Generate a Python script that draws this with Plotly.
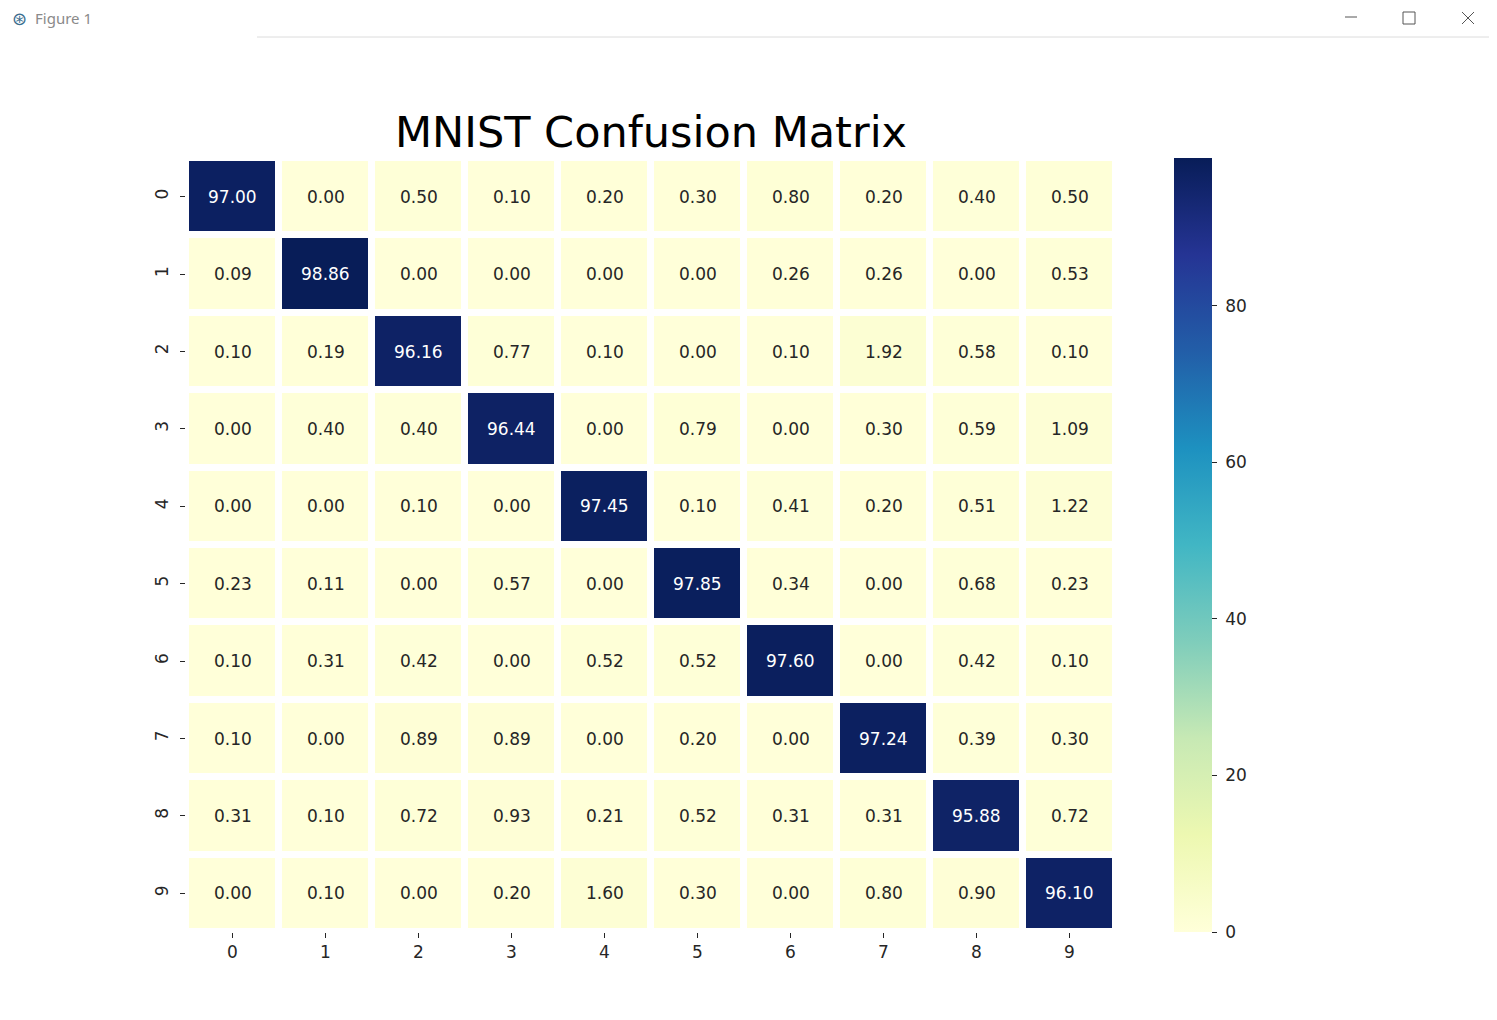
import plotly.graph_objects as go

# confusion matrix in percent (rows = true digit, cols = predicted digit)
digits = ["0", "1", "2", "3", "4", "5", "6", "7", "8", "9"]
row_0 = [97.00, 0.00, 0.50, 0.10, 0.20, 0.30, 0.80, 0.20, 0.40, 0.50]
row_1 = [0.09, 98.86, 0.00, 0.00, 0.00, 0.00, 0.26, 0.26, 0.00, 0.53]
row_2 = [0.10, 0.19, 96.16, 0.77, 0.10, 0.00, 0.10, 1.92, 0.58, 0.10]
row_3 = [0.00, 0.40, 0.40, 96.44, 0.00, 0.79, 0.00, 0.30, 0.59, 1.09]
row_4 = [0.00, 0.00, 0.10, 0.00, 97.45, 0.10, 0.41, 0.20, 0.51, 1.22]
row_5 = [0.23, 0.11, 0.00, 0.57, 0.00, 97.85, 0.34, 0.00, 0.68, 0.23]
row_6 = [0.10, 0.31, 0.42, 0.00, 0.52, 0.52, 97.60, 0.00, 0.42, 0.10]
row_7 = [0.10, 0.00, 0.89, 0.89, 0.00, 0.20, 0.00, 97.24, 0.39, 0.30]
row_8 = [0.31, 0.10, 0.72, 0.93, 0.21, 0.52, 0.31, 0.31, 95.88, 0.72]
row_9 = [0.00, 0.10, 0.00, 0.20, 1.60, 0.30, 0.00, 0.80, 0.90, 96.10]
matrix = [row_0, row_1, row_2, row_3, row_4, row_5, row_6, row_7, row_8, row_9]
cbar_ticks = [0, 20, 40, 60, 80]

# page body has an 8px margin, so shift everything up/left by that
OFF = 8
W, H = 1497, 1020
L, R, T, B = 186 - OFF, 381 + OFF, 158 - OFF, 88 + OFF
PW, PH = W - L - R, H - T - B

# matplotlib / colorbrewer YlGnBu
ylgnbu = [
    [0.0, "#ffffd9"], [0.125, "#edf8b1"], [0.25, "#c7e9b4"],
    [0.375, "#7fcdbb"], [0.5, "#41b6c4"], [0.625, "#1d91c0"],
    [0.75, "#225ea8"], [0.875, "#253494"], [1.0, "#081d58"],
]
zmax = max(max(r) for r in matrix)

font = "DejaVu Sans"


def px_x(p):
    # screenshot pixel -> paper fraction
    return (p - OFF - L) / PW


def px_y(p):
    return (H - B - (p - OFF)) / PH


fig = go.Figure()
fig.add_trace(go.Heatmap(
    z=matrix, x=digits, y=digits,
    colorscale=ylgnbu, zmin=0, zmax=zmax,
    xgap=7, ygap=7, hoverinfo="skip",
    colorbar=dict(
        x=px_x(1174), xanchor="left", y=px_y(545), yanchor="middle",
        xpad=0, ypad=0,
        thickness=38, thicknessmode="pixels",
        len=774, lenmode="pixels",
        tickvals=cbar_ticks,
        ticktext=["\u00a0" + str(t) for t in cbar_ticks],
        ticks="outside", ticklen=5, tickwidth=1,
        tickcolor="#262626", outlinewidth=0,
        tickfont=dict(family=font, size=17, color="#262626"),
    ),
))

annotations = []
for i, row in enumerate(matrix):
    for j, v in enumerate(row):
        annotations.append(dict(
            x=digits[j], y=digits[i], text=f"{v:.2f}", showarrow=False,
            font=dict(family=font, size=17,
                      color="white" if v > 50 else "#262626"),
        ))

# window chrome
annotations.append(dict(
    xref="paper", yref="paper", x=px_x(33), y=px_y(18),
    xanchor="left", yanchor="middle", text="Figure 1", showarrow=False,
    font=dict(family="Noto Sans", size=15, color="#8a8a8a"),
))
annotations.append(dict(
    xref="paper", yref="paper", x=px_x(10), y=px_y(18),
    xanchor="left", yanchor="middle", text="⊛", showarrow=False,
    font=dict(family=font, size=18, color="#3b6e8f"),
))

line = dict(color="#dcdcdc", width=1)
gl = dict(color="#555555", width=1)
shapes = [
    dict(type="line", xref="paper", yref="paper",
         x0=px_x(257), x1=px_x(1497), y0=px_y(37), y1=px_y(37), line=line),
    dict(type="line", xref="paper", yref="paper",
         x0=px_x(1496), x1=px_x(1496), y0=px_y(37), y1=px_y(1020), line=line),
    dict(type="line", xref="paper", yref="paper",
         x0=px_x(1345), x1=px_x(1357), y0=px_y(17), y1=px_y(17), line=gl),
    dict(type="rect", xref="paper", yref="paper",
         x0=px_x(1403), x1=px_x(1415), y0=px_y(12), y1=px_y(24), line=gl),
    dict(type="line", xref="paper", yref="paper",
         x0=px_x(1462), x1=px_x(1474), y0=px_y(12), y1=px_y(24), line=gl),
    dict(type="line", xref="paper", yref="paper",
         x0=px_x(1462), x1=px_x(1474), y0=px_y(24), y1=px_y(12), line=gl),
]

fig.update_layout(
    width=W, height=H,
    margin=dict(l=L, r=R, t=T, b=B),
    paper_bgcolor="white", plot_bgcolor="white",
    title=dict(text="MNIST Confusion Matrix", xref="paper", x=px_x(651),
               xanchor="center", y=1 - (132 - OFF) / H, yanchor="middle",
               font=dict(family=font, size=43, color="black")),
    annotations=annotations,
    shapes=shapes,
    xaxis=dict(showgrid=False, zeroline=False, ticks="outside", ticklen=5,
               tickcolor="#262626",
               tickfont=dict(family=font, size=17, color="#262626")),
    yaxis=dict(showgrid=False, zeroline=False, autorange="reversed",
               ticks="outside", ticklen=5, tickcolor="#262626", tickangle=-90,
               ticklabelstandoff=5,
               tickfont=dict(family=font, size=17, color="#262626")),
)

fig.write_html("out.html")
